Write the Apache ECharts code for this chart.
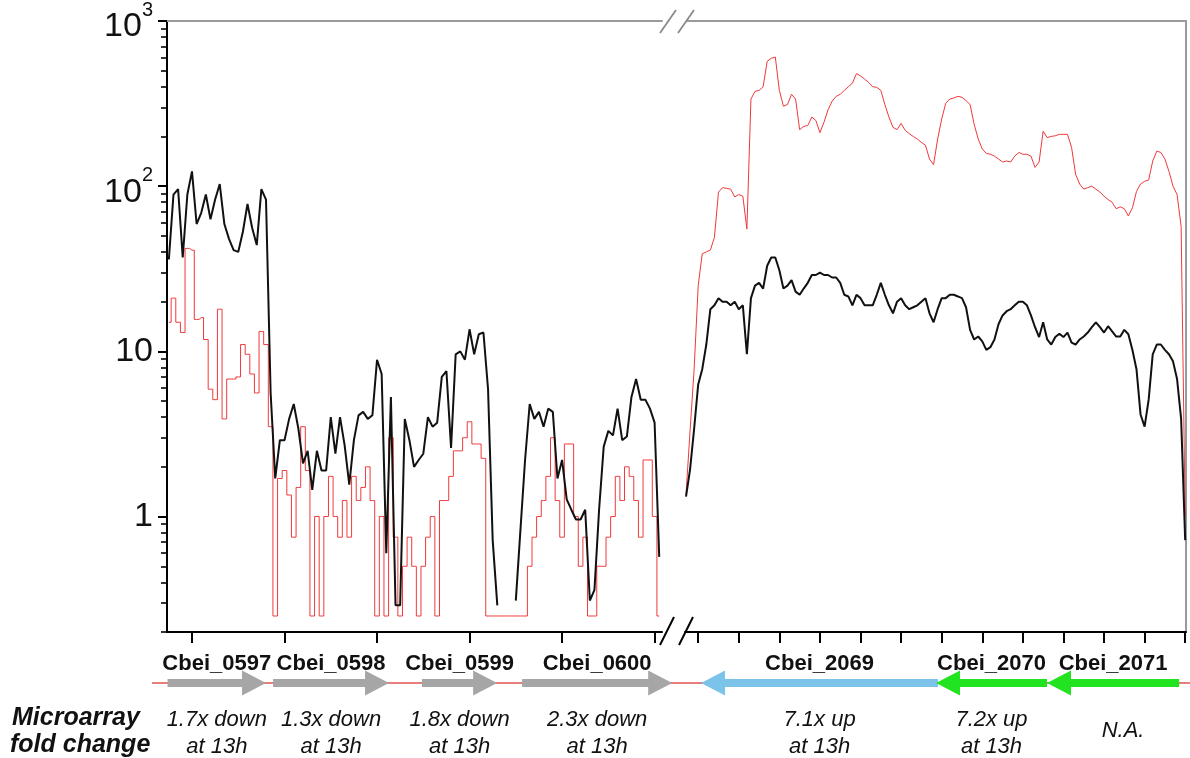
<!DOCTYPE html>
<html>
<head>
<meta charset="utf-8">
<title>Read coverage, Cbei_0597–0600 and Cbei_2069–2071</title>
<script src="https://cdn.jsdelivr.net/npm/echarts@6/dist/echarts.min.js"></script>
<style>
  html, body { margin: 0; padding: 0; background: #fff; }
  #chart { width: 1190px; height: 758px; }
</style>
</head>
<body>
<div id="chart"></div>
<script>
// ---- coverage, left locus (Cbei_0597..0600), 25 bp bins starting at 375 bp ----
const leftStart = 375;
const leftBin = 25;
const blackLeft = [
  36, 89, 96, 37, 89, 123, 59, 69, 89, 63,
  83, 103, 59, 48, 41, 40, 53, 78, 56, 44,
  96, 83, 5.6, 1.7, 2.9, 2.9, 3.9, 4.8, 3.4, 2.1,
  2.5, 1.45, 2.5, 1.9, 1.9, 4.0, 2.4, 4.0, 2.7, 1.56,
  2.9, 4.1, 4.3, 3.9, 4.1, 8.9, 7.3, 0.6, 5.3, 0.29,
  0.29, 3.9, 2.9, 2.0, 2.2, 2.4, 4.0, 3.5, 3.7, 7.0,
  7.6, 2.6, 9.6, 10, 8.9, 13.6, 9.6, 12.7, 13, 5.9,
  0.72, 0.29, null, null, null, 0.31, 0.83, 2.2, 4.8, 3.9,
  4.3, 3.5, 4.5, 4.3, 1.7, 2.2, 1.27, 1.1, 0.96, 0.96,
  1.1, 0.31, 0.36, 1.1, 2.65, 3.3, 3.1, 4.5, 2.9, 3.05,
  5.3, 6.8, 5.1, 5.1, 4.5, 3.7, 0.57
];
const redLeft = [
  15, 21, 15, 13, 42, 41, 15.6, 16, 11.8, 5.9,
  5.1, 18, 3.9, 6.8, 6.8, 7, 11, 9.6, 7.3, 5.6,
  13.2, 11, 3.5, 0.25, 1.7, 1.9, 1.35, 0.75, 1.5, 3.5,
  1.9, 0.25, 1.0, 0.25, 1.0, 1.75, 1.0, 0.75, 1.25, 0.75,
  1.75, 1.25, 1.5, 2.0, 1.25, 0.25, 1.0, 0.25, 3.0, 0.75,
  0.25, 0.5, 0.75, 0.5, 0.25, 0.5, 0.75, 1.0, 0.25, 1.25,
  1.25, 1.75, 2.5, 2.5, 3.0, 3.75, 2.75, 2.75, 2.25, 0.25,
  0.25, 0.25, 0.25, 0.25, 0.25, 0.25, 0.25, 0.25, 0.5, 0.75,
  1.0, 1.25, 1.75, 3.0, 1.25, 0.75, 2.75, 2.75, 1.0, 0.5,
  0.75, 0.25, 0.25, 0.5, 0.5, 0.75, 1.0, 1.75, 1.25, 2.0,
  1.75, 1.25, 0.75, 2.2, 2.2, 1.0, 0.25
];

// ---- coverage, right locus (Cbei_2069..2071), 20 bp bins starting at 140 bp ----
const rightStart = 140;
const rightBin = 20;
const blackRight = [
  1.32, 1.93, 3.4, 6.3, 7.8, 11, 18, 19, 21, 20,
  20, 19, 20, 18, 19, 9.6, 21, 25, 26, 24,
  33, 37, 37, 31, 24, 25, 27, 23, 22, 24,
  26, 29, 29, 30, 29, 29, 28, 28, 26, 22,
  21.5, 19, 22, 21, 19, 19, 19, 22, 26, 22,
  19, 17, 20, 21, 19, 18, 18.5, 19, 20, 21,
  17, 15, 18, 21, 21, 22, 22, 21.5, 21, 18.5,
  13.5, 11.8, 12.3, 11.5, 10.2, 10.6, 11.8, 14.6, 16.5, 17.5,
  18, 19, 20, 20, 19, 16.5, 14, 12.2, 15, 11.8,
  11, 12.2, 12.8, 12.2, 13, 11.3, 11, 11.8, 12.3, 13,
  14, 15, 14, 13, 14.2, 13.2, 12.3, 12.3, 13.5, 12.7,
  10.2, 7.8, 4.15, 3.5, 5.1, 9.6, 11, 11, 10.2, 9.6,
  8.7, 6.8, 3.9, 0.72
];
const redRight = [
  1.36, 3.3, 7.8, 25, 39, 40, 41, 49, 92, 98,
  97, 96, 86, 89, 87, 55, 337, 375, 380, 400,
  570, 595, 605, 380, 305, 312, 360, 337, 220, 230,
  233, 262, 250, 211, 244, 290, 327, 350, 360, 380,
  400, 420, 480, 465, 445, 425, 400, 397, 380, 312,
  262, 227, 220, 240, 218, 208, 200, 193, 184, 177,
  146, 135, 193, 255, 318, 337, 342, 350, 345, 330,
  312, 237, 193, 168, 158, 156, 152, 146, 140, 142,
  140, 152, 160, 156, 156, 152, 130, 140, 215, 197,
  200, 202, 206, 206, 206, 172, 118, 103, 96, 98,
  100, 96, 92, 87, 83, 80, 73, 75, 73, 66,
  74, 93, 103, 107, 109, 142, 163, 160, 146, 123,
  100, 89, 57, 1.0
];

// ---- axes ----
const leftRange = [365, 3040];
const rightRange = [135, 2604];
const leftTicks = [500, 1000, 1500, 2000, 2500, 3000];
const rightTicks = [200, 400, 600, 800, 1000, 1200, 1400, 1600, 1800, 2000, 2200, 2400, 2600];
const yRange = [0.2, 1000];
const yMajor = [1, 10, 100, 1000];
const yMinorFactors = [2, 3, 4, 5, 6, 7, 8, 9];

// ---- genes: arrow runs from `from` to `to` (tip), fold change printed below ----
const genesLeft = [
  { name: 'Cbei_0597', from: 368, to: 900, color: '#a6a6a6', fold: ['1.7x down', 'at 13h'] },
  { name: 'Cbei_0598', from: 938, to: 1565, color: '#a6a6a6', fold: ['1.3x down', 'at 13h'] },
  { name: 'Cbei_0599', from: 1743, to: 2149, color: '#a6a6a6', fold: ['1.8x down', 'at 13h'] },
  { name: 'Cbei_0600', from: 2284, to: 3095, color: '#a6a6a6', fold: ['2.3x down', 'at 13h'] }
];
const genesRight = [
  { name: 'Cbei_2069', from: 1382, to: 214, color: '#7cc3ea', fold: ['7.1x up', 'at 13h'] },
  { name: 'Cbei_2070', from: 1919, to: 1372, color: '#22e31f', fold: ['7.2x up', 'at 13h'] },
  { name: 'Cbei_2071', from: 2570, to: 1919, color: '#22e31f', fold: ['N.A.'] }
];

const FONT = '"Liberation Sans", Arial, sans-serif';
const log10 = Math.log10;

const toPairs = (arr, start, bin) => arr.map((v, i) => [start + i * bin, v]);

const yMinor = [];
[0.1, 1, 10, 100].forEach(d => yMinorFactors.forEach(f => {
  const v = f * d;
  if (v >= yRange[0] && v < yRange[1]) yMinor.push(log10(v));
}));

function geneRenderer(genes) {
  return function (params, api) {
    const g = genes[params.dataIndex];
    const p0 = api.coord([api.value(0), 0.5]);
    const p1 = api.coord([api.value(1), 0.5]);
    const y = p0[1];
    const dir = p1[0] >= p0[0] ? 1 : -1;
    const headLen = 24, headHalf = 12.5, shaftHalf = 4;
    const tip = p1[0];
    const base = tip - dir * headLen;
    const pts = [
      [p0[0], y - shaftHalf], [base, y - shaftHalf], [base, y - headHalf],
      [tip, y], [base, y + headHalf], [base, y + shaftHalf], [p0[0], y + shaftHalf]
    ];
    const cx = (p0[0] + p1[0]) / 2;
    const children = [
      { type: 'polygon', shape: { points: pts }, style: { fill: g.color } },
      { type: 'text', x: cx, y: y - 19, style: {
          text: g.name, font: 'bold 22px ' + FONT, fill: '#111',
          align: 'center', verticalAlign: 'middle' } }
    ];
    if (g.fold.length === 1) {
      children.push({ type: 'text', x: cx + 10, y: y + 48, style: {
        text: g.fold[0], font: 'italic 22px ' + FONT, fill: '#111',
        align: 'center', verticalAlign: 'middle' } });
    } else {
      g.fold.forEach((t, k) => children.push({ type: 'text', x: cx, y: y + 37 + k * 27, style: {
        text: t, font: 'italic 22px ' + FONT, fill: '#111',
        align: 'center', verticalAlign: 'middle' } }));
    }
    return { type: 'group', children };
  };
}

const chart = echarts.init(document.getElementById('chart'), null, { renderer: 'canvas' });

const plotTop = 21, plotHeight = 611;

const hiddenAxis = { show: false };
const baseX = (grid, range, ticks) => ({
  type: 'value', gridIndex: grid, min: range[0], max: range[1],
  axisLine: { show: true, onZero: false, lineStyle: { color: '#000', width: 2 } },
  axisTick: { show: true, inside: false, length: 11, lineStyle: { color: '#000', width: 2 }, customValues: ticks },
  axisLabel: { show: false }, splitLine: { show: false }
});
const topX = (grid, range) => ({
  type: 'value', gridIndex: grid, position: 'top', min: range[0], max: range[1],
  axisLine: { show: true, onZero: false, lineStyle: { color: '#9a9a9a', width: 2 } },
  axisTick: { show: false }, axisLabel: { show: false }, splitLine: { show: false }
});

const option = {
  animation: false,
  backgroundColor: '#ffffff',
  grid: [
    { left: 167, width: 495, top: plotTop, height: plotHeight },
    { left: 685, width: 501, top: plotTop, height: plotHeight },
    { left: 167, width: 495, top: 660, height: 46 },
    { left: 685, width: 501, top: 660, height: 46 }
  ],
  xAxis: [
    baseX(0, leftRange, leftTicks),
    baseX(1, rightRange, rightTicks),
    topX(0, leftRange),
    topX(1, rightRange),
    Object.assign({ type: 'value', gridIndex: 2, min: leftRange[0], max: leftRange[1] }, hiddenAxis),
    Object.assign({ type: 'value', gridIndex: 3, min: rightRange[0], max: rightRange[1] }, hiddenAxis)
  ],
  yAxis: [
    // data scale, left panel
    { type: 'log', logBase: 10, gridIndex: 0, position: 'left', min: yRange[0], max: yRange[1],
      axisLine: { show: true, lineStyle: { color: '#000', width: 2 } },
      axisTick: { show: false }, axisLabel: { show: false }, splitLine: { show: false } },
    // decade ticks and labels
    { type: 'value', gridIndex: 0, position: 'left', offset: 0,
      min: log10(yRange[0]), max: log10(yRange[1]),
      axisLine: { show: false },
      axisTick: { show: true, length: 9, lineStyle: { color: '#000', width: 2 },
        customValues: yMajor.map(log10) },
      axisLabel: { show: true, margin: 14, customValues: yMajor.map(log10),
        fontFamily: FONT, fontSize: 34, color: '#111',
        formatter: v => {
          const e = Math.round(v);
          if (e === 0) return '1';
          if (e === 1) return '10';
          return '{d|10}{s|' + e + '}';
        },
        rich: {
          d: { fontSize: 34, fontFamily: FONT, color: '#111', padding: [12, 0, 0, 0] },
          s: { fontSize: 20, fontFamily: FONT, color: '#111', padding: [0, 0, 22, 0] }
        } },
      splitLine: { show: false } },
    // minor ticks
    { type: 'value', gridIndex: 0, position: 'left', offset: 0,
      min: log10(yRange[0]), max: log10(yRange[1]),
      axisLine: { show: false },
      axisTick: { show: true, length: 6, lineStyle: { color: '#000', width: 1.6 }, customValues: yMinor },
      axisLabel: { show: false }, splitLine: { show: false } },
    // data scale, right panel (its line is the frame's right edge)
    { type: 'log', logBase: 10, gridIndex: 1, min: yRange[0], max: yRange[1], position: 'right',
      axisLine: { show: true, lineStyle: { color: '#9a9a9a', width: 2 } },
      axisTick: { show: false }, axisLabel: { show: false }, splitLine: { show: false } },
    Object.assign({ type: 'value', gridIndex: 2, min: 0, max: 1 }, hiddenAxis),
    Object.assign({ type: 'value', gridIndex: 3, min: 0, max: 1 }, hiddenAxis)
  ],
  series: [
    { type: 'line', xAxisIndex: 0, yAxisIndex: 0, data: toPairs(redLeft, leftStart, leftBin),
      step: 'middle', symbol: 'none', lineStyle: { color: '#f0393b', width: 1 }, z: 2 },
    { type: 'line', xAxisIndex: 0, yAxisIndex: 0, data: toPairs(blackLeft, leftStart, leftBin),
      symbol: 'none', connectNulls: false, lineStyle: { color: '#111', width: 2 }, z: 3 },
    { type: 'line', xAxisIndex: 1, yAxisIndex: 3, data: toPairs(redRight, rightStart, rightBin),
      symbol: 'none', lineStyle: { color: '#f0393b', width: 1 }, z: 2 },
    { type: 'line', xAxisIndex: 1, yAxisIndex: 3, data: toPairs(blackRight, rightStart, rightBin),
      symbol: 'none', lineStyle: { color: '#111', width: 2 }, z: 3 },
    { type: 'custom', xAxisIndex: 4, yAxisIndex: 4, clip: false, z: 5,
      renderItem: geneRenderer(genesLeft), data: genesLeft.map(g => [g.from, g.to]) },
    { type: 'custom', xAxisIndex: 5, yAxisIndex: 5, clip: false, z: 5,
      renderItem: geneRenderer(genesRight), data: genesRight.map(g => [g.from, g.to]) }
  ],
  graphic: [
    // genome backbone
    { type: 'line', z: 1, shape: { x1: 152, y1: 683, x2: 1190, y2: 683 },
      style: { stroke: '#e05252', lineWidth: 1.5 } },
    // axis break marks, top frame
    { type: 'rect', shape: { x: 664, y: 17, width: 23, height: 8 }, style: { fill: '#fff' }, z: 10 },
    { type: 'line', z: 11, shape: { x1: 660, y1: 33, x2: 676, y2: 10 }, style: { stroke: '#8a8a8a', lineWidth: 1.8 } },
    { type: 'line', z: 11, shape: { x1: 678, y1: 33, x2: 694, y2: 10 }, style: { stroke: '#8a8a8a', lineWidth: 1.8 } },
    // axis break marks, bottom axis
    { type: 'line', z: 11, shape: { x1: 660, y1: 645, x2: 674, y2: 617 }, style: { stroke: '#000', lineWidth: 2 } },
    { type: 'line', z: 11, shape: { x1: 679, y1: 645, x2: 693, y2: 617 }, style: { stroke: '#000', lineWidth: 2 } },
    // row caption
    { type: 'text', left: 12, top: 706, style: { text: 'Microarray', font: 'italic bold 25px ' + FONT, fill: '#111' } },
    { type: 'text', left: 10, top: 733, style: { text: 'fold change', font: 'italic bold 25px ' + FONT, fill: '#111' } }
  ]
};

chart.setOption(option);
</script>
</body>
</html>
